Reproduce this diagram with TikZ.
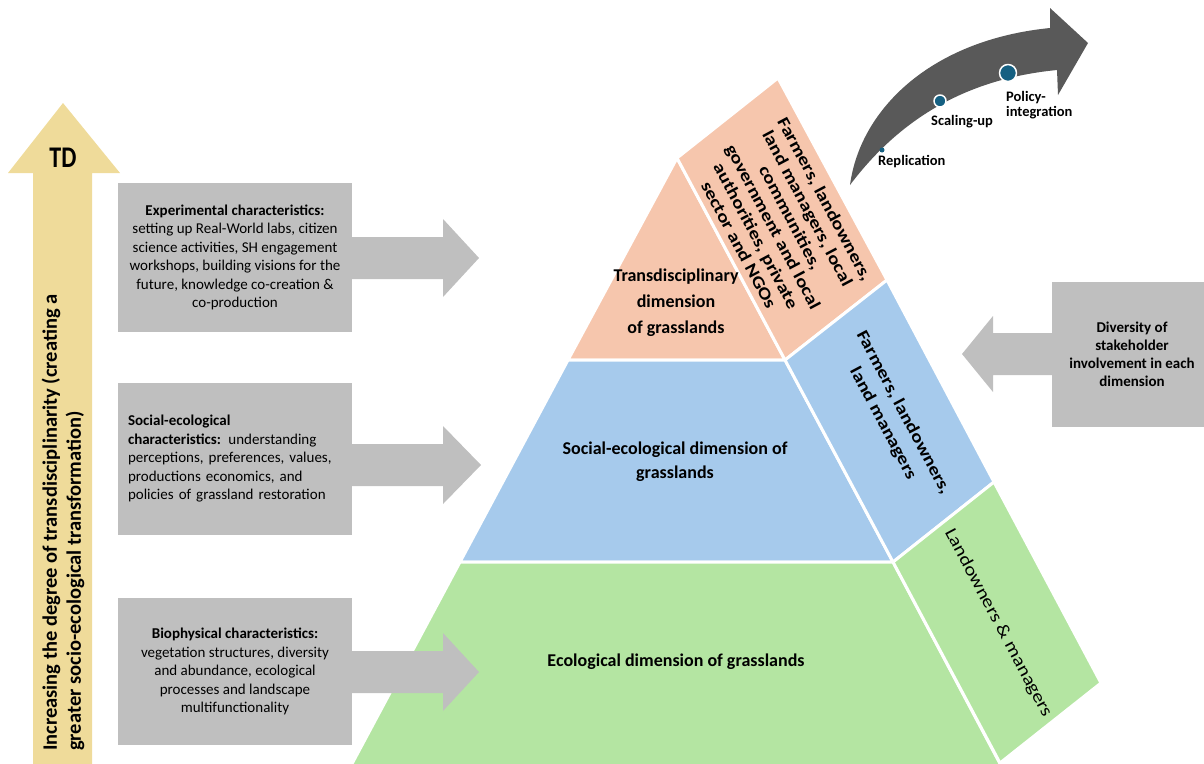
\documentclass[tikz,border=0pt]{standalone}
\usepackage{fontspec}
\setmainfont{Carlito}
\usetikzlibrary{arrows}
\definecolor{f6c6ad}{rgb}{0.965,0.776,0.678}
\definecolor{a6caec}{rgb}{0.651,0.792,0.925}
\definecolor{b4e5a2}{rgb}{0.706,0.898,0.635}
\definecolor{bfbfbf}{rgb}{0.75,0.75,0.75}
\definecolor{efdb9a}{rgb}{0.937,0.859,0.604}
\definecolor{sqsqsq}{rgb}{0.35,0.35,0.35}
\definecolor{dotblue}{rgb}{0.082,0.376,0.51}
\begin{document}
\begin{tikzpicture}[line cap=round,line join=round,x=1pt,y=1pt,
	face/.style={draw=white,line width=3pt},
	charbox/.style={fill=bfbfbf,minimum width=234pt,inner sep=0pt,font=\fontsize{15}{18.5}\selectfont},
	dimlabel/.style={align=center,font=\fontsize{18}{26}\selectfont\bfseries},
	stakelabel/.style={rotate=-62,xscale=1.2,align=center,inner sep=0pt},
	steplabel/.style={anchor=west,align=left,inner sep=0pt,font=\fontsize{14.5}{15}\selectfont\bfseries}]
	\useasboundingbox (0,-763) rectangle (1204,0);
	\clip (0,-763) rectangle (1204,0);
	% degree of transdisciplinarity
	\fill[color=efdb9a] (33,-770) -- (33,-173) -- (8,-173) -- (63,-103) -- (120,-173) -- (92,-173) -- (92,-770) -- cycle;
	\node[yscale=1.25,font=\fontsize{24}{24}\selectfont\bfseries] (td) at (63,-158) {TD};
	\node[rotate=90,anchor=west,align=left,inner sep=0pt,font=\fontsize{20.5}{24}\selectfont\bfseries] (degree) at (63,-751) {Increasing the degree of transdisciplinarity (creating a\\greater socio-ecological transformation)};
	% pyramid, front
	\filldraw[face,fill=f6c6ad] (677,-158) -- (568,-360) -- (785,-360) -- cycle;
	\filldraw[face,fill=a6caec] (568,-360) -- (460,-562) -- (893,-562) -- (785,-360) -- cycle;
	\filldraw[face,fill=b4e5a2] (460,-562) -- (346,-775) -- (1006,-775) -- (893,-562) -- cycle;
	% pyramid, side
	\filldraw[face,fill=f6c6ad] (677,-158) -- (778,-78) -- (887,-280) -- (785,-360) -- cycle;
	\filldraw[face,fill=a6caec] (785,-360) -- (887,-280) -- (994,-482) -- (893,-562) -- cycle;
	\filldraw[face,fill=b4e5a2] (893,-562) -- (994,-482) -- (1101,-683) -- (1000,-763) -- cycle;
	\node[dimlabel] (tdlab) at (676,-303) {Transdisciplinary\\dimension\\of grasslands};
	\node[dimlabel,font=\fontsize{18}{24}\selectfont\bfseries] (selab) at (675,-462) {Social-ecological dimension of\\grasslands};
	\node[dimlabel] (eclab) at (676,-662) {Ecological dimension of grasslands};
	\node[stakelabel,font=\fontsize{17}{19.5}\selectfont\bfseries] (tdstake) at (782,-222) {Farmers, landowners,\\land managers, local\\communities,\\government and local\\authorities, private\\sector and NGOs};
	\node[stakelabel,font=\fontsize{17}{23}\selectfont\bfseries] (sestake) at (893,-418) {Farmers, landowners,\\land managers};
	\node[stakelabel,font=\fontsize{17.5}{20}\selectfont] (ecstake) at (998,-623) {Landowners \& managers};
	% characteristics boxes
	\node[charbox,minimum height=149pt,align=center] (exper) at (235,-257.5) {{\bfseries Experimental characteristics:}\\setting up Real-World labs, citizen\\science activities, SH engagement\\workshops, building visions for the\\future, knowledge co-creation \&\\co-production};
	\node[charbox,minimum height=152pt,text width=214pt,align=left] (socec) at (235,-459) {{\bfseries Social-ecological}\\{\bfseries characteristics:} understanding\\perceptions, preferences, values,\\productions economics, and\\policies of grassland restoration};
	\node[charbox,minimum height=147pt,align=center] (bioph) at (235,-671.5) {{\bfseries Biophysical characteristics:}\\vegetation structures, diversity\\and abundance, ecological\\processes and landscape\\multifunctionality};
	\fill[color=bfbfbf] (352,-237) -- (443,-237) -- (443,-219) -- (479,-258) -- (443,-297) -- (443,-279) -- (352,-279) -- cycle;
	\fill[color=bfbfbf] (352,-444) -- (443,-444) -- (443,-426) -- (481,-465) -- (443,-504) -- (443,-486) -- (352,-486) -- cycle;
	\fill[color=bfbfbf] (352,-651) -- (443,-651) -- (443,-633) -- (479,-672) -- (443,-711) -- (443,-693) -- (352,-693) -- cycle;
	% stakeholder box
	\node[charbox,minimum width=160pt,minimum height=145pt,align=center,font=\fontsize{15}{18}\selectfont\bfseries] (divers) at (1132,-354.5) {Diversity of\\stakeholder\\involvement in each\\dimension};
	\fill[color=bfbfbf] (1052,-333) -- (993,-333) -- (993,-316) -- (962,-354) -- (993,-392) -- (993,-375) -- (1052,-375) -- cycle;
	% upscaling arrow
	\fill[color=sqsqsq] (850,-185) .. controls (860,-110) and (930,-40) .. (1050,-28) -- (1050,-8) -- (1088,-43) -- (1058,-95) -- (1057,-70) .. controls (975,-78) and (905,-112) .. (850,-185) -- cycle;
	\fill[color=dotblue] (882,-150) circle (2.5);
	\filldraw[color=white,fill=dotblue,line width=1.5pt] (940,-101) circle (6);
	\filldraw[color=white,fill=dotblue,line width=1.5pt] (1008,-73) circle (8.5);
	\node[steplabel] (repl) at (878,-162) {Replication};
	\node[steplabel] (scal) at (931,-122) {Scaling-up};
	\node[steplabel] (poli) at (1006,-105) {Policy-\\integration};
\end{tikzpicture}
\end{document}
